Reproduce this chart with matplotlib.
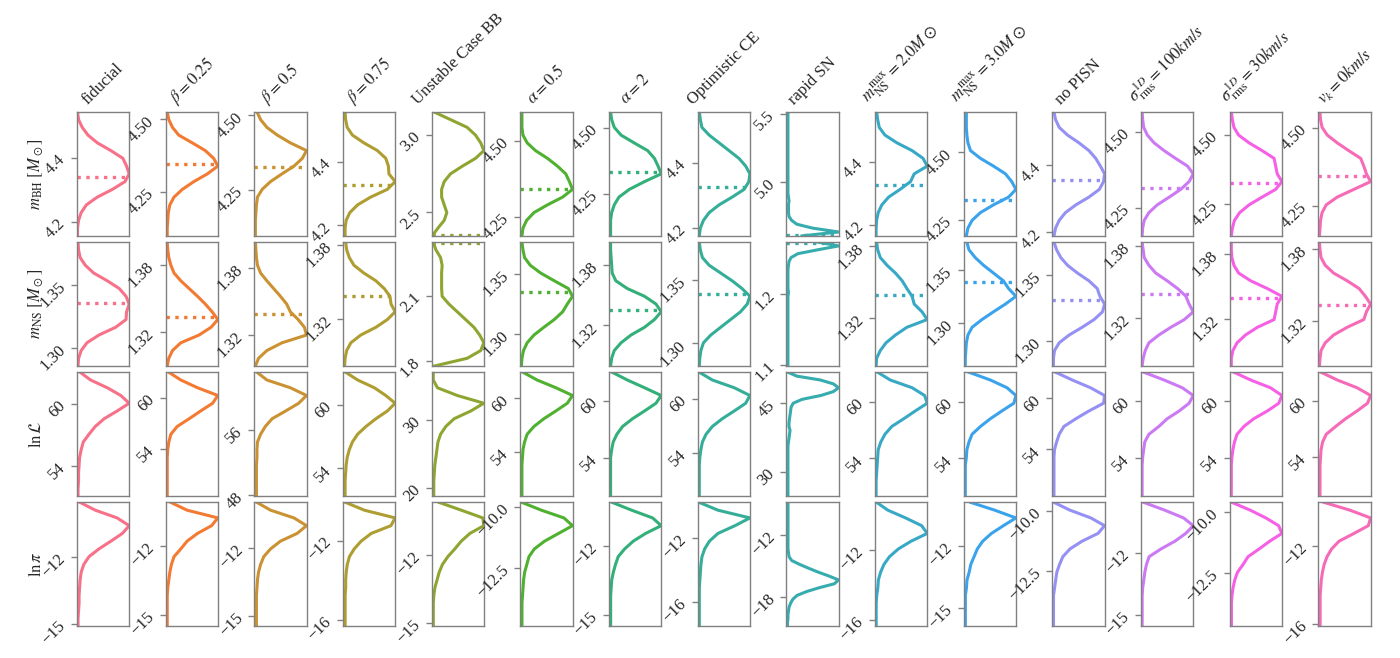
import numpy as np
import matplotlib
matplotlib.use('Agg')
import matplotlib.pyplot as plt
import seaborn as sns

plt.rcParams['font.family'] = 'serif'
plt.rcParams['font.serif'] = ['Liberation Serif', 'DejaVu Serif']
plt.rcParams['mathtext.fontset'] = 'stix'

models = ['fiducial', r'$\beta=0.25$', r'$\beta=0.5$', r'$\beta=0.75$', 'Unstable Case BB',
          r'$\alpha=0.5$', r'$\alpha=2$', 'Optimistic CE', 'rapid SN',
          r'$m_{\rm NS}^{\rm max}=2.0M\odot$', r'$m_{\rm NS}^{\rm max}=3.0M\odot$', 'no PISN',
          r'$\sigma_{\rm rms}^{1D}=100km/s$', r'$\sigma_{\rm rms}^{1D}=30km/s$', r'$v_k=0km/s$']

row_labels = [r'$m_{\rm BH}\ [M_\odot]$', r'$m_{\rm NS}\ [M_\odot]$', r'$\ln\mathcal{L}$', r'$\ln\pi$']

# ---- m_BH ----
mbh_lims = [(4.157, 4.544), (4.099, 4.526), (4.095, 4.512), (4.167, 4.558), (2.348, 3.152),
            (4.188, 4.594), (4.092, 4.561), (4.176, 4.557), (4.601, 5.515), (4.165, 4.560),
            (4.191, 4.650), (4.190, 4.559), (4.159, 4.567), (4.134, 4.582), (4.153, 4.552)]
mbh_ticks = [['4.2', '4.4'], ['4.25', '4.50'], ['4.25', '4.50'], ['4.2', '4.4'], ['2.5', '3.0'],
             ['4.25', '4.50'], ['4.25', '4.50'], ['4.2', '4.4'], ['5.0', '5.5'], ['4.2', '4.4'],
             ['4.25', '4.50'], ['4.2', '4.4'], ['4.25', '4.50'], ['4.25', '4.50'], ['4.25', '4.50']]
mbh_truth = [4.340, 4.346, 4.327, 4.326, 2.352, 4.340, 4.332, 4.326, 4.608, 4.326,
             4.324, 4.357, 4.318, 4.325, 4.344]
mbh_dens = [
    [0.01, 0.01, 0.03, 0.08, 0.18, 0.39, 0.68, 0.92, 1.0, 0.95, 0.88, 0.65, 0.39, 0.21, 0.10, 0.03, 0.01],
    [0.03, 0.03, 0.04, 0.05, 0.08, 0.16, 0.32, 0.54, 0.80, 1.0, 0.92, 0.76, 0.51, 0.25, 0.13, 0.06, 0.03],
    [0.02, 0.02, 0.02, 0.03, 0.04, 0.06, 0.15, 0.31, 0.53, 0.76, 0.92, 1.0, 0.69, 0.44, 0.24, 0.12, 0.05],
    [0.04, 0.04, 0.06, 0.13, 0.28, 0.53, 0.85, 1.0, 0.88, 0.87, 0.82, 0.66, 0.40, 0.18, 0.08, 0.05, 0.04],
    [0.01, 0.12, 0.24, 0.29, 0.24, 0.19, 0.19, 0.24, 0.36, 0.59, 0.84, 1.0, 0.94, 0.84, 0.68, 0.36, 0.04],
    [0.03, 0.05, 0.12, 0.26, 0.52, 0.81, 1.0, 0.94, 0.87, 0.71, 0.52, 0.29, 0.13, 0.05, 0.03, 0.03, 0.03],
    [0.03, 0.03, 0.03, 0.05, 0.10, 0.19, 0.39, 0.68, 1.0, 0.94, 0.87, 0.74, 0.48, 0.23, 0.10, 0.05, 0.03],
    [0.03, 0.05, 0.11, 0.22, 0.41, 0.66, 0.89, 0.98, 1.0, 0.92, 0.79, 0.60, 0.41, 0.22, 0.08, 0.05, 0.03],
    [0.30, 1.0, 0.50, 0.20, 0.10, 0.05, 0.04, 0.04, 0.04, 0.05, 0.04, 0.03, 0.03, 0.03, 0.03, 0.03, 0.03,
     0.03, 0.03, 0.03, 0.03, 0.03, 0.03, 0.03, 0.03, 0.03, 0.03, 0.03, 0.03, 0.03, 0.03, 0.03, 0.03],
    [0.02, 0.02, 0.03, 0.06, 0.13, 0.26, 0.48, 0.68, 0.75, 1.0, 0.92, 0.71, 0.42, 0.19, 0.08, 0.05, 0.03],
    [0.05, 0.08, 0.16, 0.32, 0.57, 0.86, 1.0, 0.92, 0.80, 0.57, 0.32, 0.13, 0.08, 0.06, 0.05, 0.05, 0.05],
    [0.03, 0.06, 0.13, 0.25, 0.45, 0.70, 0.90, 0.98, 1.0, 0.92, 0.83, 0.70, 0.51, 0.29, 0.13, 0.06, 0.03],
    [0.02, 0.03, 0.06, 0.15, 0.31, 0.54, 0.76, 0.92, 1.0, 0.89, 0.66, 0.44, 0.25, 0.12, 0.05, 0.03, 0.02],
    [0.03, 0.05, 0.09, 0.19, 0.37, 0.62, 0.88, 1.0, 0.91, 0.88, 0.85, 0.62, 0.37, 0.17, 0.08, 0.05, 0.03],
    [0.02, 0.03, 0.04, 0.07, 0.15, 0.36, 0.68, 1.0, 0.92, 0.87, 0.81, 0.58, 0.36, 0.17, 0.07, 0.04, 0.03],
]

# ---- m_NS ----
mns_lims = [(1.2854, 1.3846), (1.2896, 1.4009), (1.2924, 1.4032), (1.2818, 1.3822), (1.777, 2.345),
            (1.2732, 1.3762), (1.280, 1.4023), (1.2823, 1.3794), (1.098, 1.2728), (1.2795, 1.3836),
            (1.2594, 1.3759), (1.2813, 1.3745), (1.2799, 1.383), (1.2765, 1.3907), (1.2818, 1.3859)]
mns_ticks = [['1.30', '1.35'], ['1.32', '1.38'], ['1.32', '1.38'], ['1.32', '1.38'], ['1.8', '2.1'],
             ['1.30', '1.35'], ['1.32', '1.38'], ['1.30', '1.35'], ['1.1', '1.2'], ['1.32', '1.38'],
             ['1.30', '1.35'], ['1.30', '1.35'], ['1.32', '1.38'], ['1.32', '1.38'], ['1.32', '1.38']]
mns_truth = [1.3356, 1.334, 1.339, 1.3388, 2.341, 1.3348, 1.3357, 1.3385, 1.2713, 1.3395,
             1.3388, 1.3308, 1.3402, 1.3396, 1.3334]
mns_dens = [
    [0.02, 0.03, 0.08, 0.19, 0.42, 0.74, 0.94, 0.95, 1.0, 0.94, 0.81, 0.58, 0.32, 0.16, 0.06, 0.03, 0.02],
    [0.03, 0.06, 0.13, 0.29, 0.64, 0.87, 1.0, 0.89, 0.76, 0.61, 0.45, 0.29, 0.16, 0.10, 0.06, 0.04, 0.03],
    [0.02, 0.08, 0.24, 0.53, 1.0, 0.96, 0.84, 0.69, 0.62, 0.50, 0.37, 0.24, 0.12, 0.06, 0.04, 0.03, 0.02],
    [0.03, 0.04, 0.07, 0.15, 0.34, 0.63, 0.85, 1.0, 0.92, 0.90, 0.79, 0.63, 0.40, 0.21, 0.12, 0.07, 0.05],
    [0.05, 0.68, 0.94, 1.0, 0.92, 0.81, 0.65, 0.49, 0.33, 0.20, 0.19, 0.19, 0.19, 0.20, 0.17, 0.08, 0.03],
    [0.02, 0.03, 0.06, 0.13, 0.26, 0.45, 0.65, 0.81, 0.90, 1.0, 0.92, 0.65, 0.39, 0.19, 0.08, 0.05, 0.03],
    [0.03, 0.05, 0.10, 0.23, 0.42, 0.68, 0.87, 1.0, 0.90, 0.68, 0.35, 0.13, 0.06, 0.05, 0.04, 0.03, 0.03],
    [0.03, 0.04, 0.06, 0.11, 0.25, 0.44, 0.63, 0.82, 0.95, 1.0, 0.85, 0.66, 0.44, 0.22, 0.09, 0.05, 0.03],
    [0.03, 0.03, 0.03, 0.03, 0.03, 0.03, 0.03, 0.03, 0.03, 0.03, 0.03, 0.03, 0.03, 0.03, 0.03, 0.03, 0.03,
     0.03, 0.03, 0.04, 0.03, 0.03, 0.03, 0.03, 0.03, 0.03, 0.04, 0.05, 0.09, 0.22, 0.60, 1.0, 0.60],
    [0.02, 0.03, 0.10, 0.21, 0.39, 0.61, 1.0, 0.90, 0.75, 0.71, 0.61, 0.52, 0.39, 0.23, 0.10, 0.05, 0.03],
    [0.03, 0.03, 0.04, 0.05, 0.08, 0.16, 0.35, 0.57, 0.80, 1.0, 0.86, 0.76, 0.57, 0.38, 0.22, 0.10, 0.06],
    [0.02, 0.02, 0.04, 0.13, 0.32, 0.57, 0.80, 0.96, 1.0, 0.91, 0.86, 0.70, 0.48, 0.29, 0.16, 0.08, 0.03],
    [0.02, 0.04, 0.08, 0.15, 0.34, 0.57, 0.83, 1.0, 0.92, 0.86, 0.70, 0.50, 0.28, 0.15, 0.06, 0.04, 0.02],
    [0.03, 0.03, 0.06, 0.14, 0.30, 0.53, 0.85, 0.88, 0.91, 1.0, 0.72, 0.40, 0.17, 0.08, 0.04, 0.03, 0.03],
    [0.02, 0.03, 0.05, 0.13, 0.29, 0.55, 0.87, 0.92, 1.0, 0.90, 0.78, 0.55, 0.29, 0.13, 0.05, 0.03, 0.02],
]

# ---- ln L ----
lnl_lims = [(51.08, 63.02), (48.44, 63.06), (47.88, 62.97), (51.34, 63.14), (18.77, 37.0),
            (48.98, 62.94), (49.94, 63.0), (49.13, 63.0), (24.73, 51.8), (49.99, 63.12),
            (49.99, 63.12), (48.47, 63.08), (49.94, 63.0), (49.94, 63.0), (49.82, 63.04)]
lnl_ticks = [['54', '60'], ['54', '60'], ['48', '56'], ['54', '60'], ['20', '30'],
             ['54', '60'], ['54', '60'], ['54', '60'], ['30', '45'], ['54', '60'],
             ['54', '60'], ['54', '60'], ['54', '60'], ['54', '60'], ['54', '60']]
lnl_dens = [
    [0.02, 0.02, 0.03, 0.03, 0.04, 0.05, 0.08, 0.12, 0.23, 0.35, 0.52, 0.77, 1.0, 0.84, 0.58, 0.26, 0.06],
    [0.03, 0.03, 0.03, 0.03, 0.03, 0.03, 0.04, 0.06, 0.10, 0.22, 0.45, 0.67, 0.90, 1.0, 0.61, 0.29, 0.06],
    [0.04, 0.04, 0.04, 0.04, 0.04, 0.05, 0.05, 0.06, 0.12, 0.21, 0.34, 0.60, 0.85, 1.0, 0.69, 0.24, 0.05],
    [0.04, 0.04, 0.04, 0.05, 0.06, 0.08, 0.12, 0.18, 0.28, 0.44, 0.63, 0.85, 1.0, 0.82, 0.60, 0.28, 0.05],
    [0.04, 0.04, 0.04, 0.05, 0.06, 0.08, 0.10, 0.12, 0.17, 0.27, 0.43, 0.75, 1.0, 0.49, 0.11, 0.03, 0.03],
    [0.03, 0.03, 0.03, 0.03, 0.03, 0.04, 0.05, 0.08, 0.13, 0.26, 0.45, 0.68, 0.90, 1.0, 0.68, 0.32, 0.05],
    [0.03, 0.03, 0.03, 0.03, 0.03, 0.03, 0.05, 0.08, 0.15, 0.26, 0.45, 0.68, 0.90, 1.0, 0.68, 0.35, 0.06],
    [0.03, 0.03, 0.03, 0.03, 0.03, 0.04, 0.06, 0.09, 0.16, 0.28, 0.47, 0.70, 0.92, 1.0, 0.70, 0.28, 0.03],
    [0.03, 0.03, 0.03, 0.03, 0.03, 0.03, 0.03, 0.03, 0.03, 0.03, 0.03, 0.03, 0.03, 0.03, 0.04, 0.05, 0.06,
     0.07, 0.05, 0.05, 0.06, 0.07, 0.08, 0.09, 0.13, 0.30, 0.66, 0.90, 1.0, 0.90, 0.65, 0.20, 0.03],
    [0.02, 0.02, 0.02, 0.03, 0.04, 0.05, 0.06, 0.11, 0.19, 0.32, 0.55, 0.77, 1.0, 0.95, 0.71, 0.29, 0.05],
    [0.03, 0.03, 0.03, 0.03, 0.03, 0.05, 0.06, 0.10, 0.16, 0.32, 0.51, 0.73, 0.96, 1.0, 0.83, 0.51, 0.10],
    [0.03, 0.03, 0.03, 0.03, 0.03, 0.03, 0.04, 0.08, 0.13, 0.22, 0.45, 0.70, 0.98, 1.0, 0.73, 0.38, 0.06],
    [0.02, 0.02, 0.02, 0.02, 0.02, 0.03, 0.05, 0.07, 0.15, 0.34, 0.50, 0.73, 0.92, 1.0, 0.79, 0.44, 0.05],
    [0.03, 0.03, 0.03, 0.03, 0.03, 0.04, 0.06, 0.09, 0.14, 0.27, 0.46, 0.72, 0.94, 1.0, 0.78, 0.40, 0.08],
    [0.03, 0.03, 0.03, 0.03, 0.03, 0.04, 0.05, 0.08, 0.15, 0.33, 0.52, 0.74, 0.94, 1.0, 0.74, 0.36, 0.05],
]

# ---- ln pi ----
lnp_lims = [(-15.09, -9.57), (-15.52, -10.08), (-15.44, -10.0), (-16.3, -10.09), (-15.15, -9.65),
            (-14.9, -9.82), (-15.51, -10.1), (-17.51, -9.76), (-20.85, -8.85), (-16.38, -9.27),
            (-15.89, -9.89), (-14.79, -9.65), (-15.57, -9.57), (-14.65, -9.62), (-16.14, -9.76)]
lnp_ticks = [['−15', '−12'], ['−15', '−12'], ['−15', '−12'], ['−16', '−12'], ['−15', '−12'],
             ['−12.5', '−10.0'], ['−15', '−12'], ['−16', '−12'], ['−18', '−12'], ['−16', '−12'],
             ['−15', '−12'], ['−12.5', '−10.0'], ['−15', '−12'], ['−12.5', '−10.0'], ['−16', '−12']]
lnp_dens = [
    [0.02, 0.02, 0.03, 0.04, 0.04, 0.05, 0.06, 0.08, 0.13, 0.23, 0.42, 0.65, 0.87, 1.0, 0.77, 0.35, 0.06],
    [0.03, 0.03, 0.03, 0.03, 0.03, 0.04, 0.06, 0.08, 0.11, 0.16, 0.29, 0.41, 0.61, 0.88, 1.0, 0.41, 0.10],
    [0.04, 0.04, 0.04, 0.04, 0.04, 0.05, 0.06, 0.08, 0.12, 0.18, 0.31, 0.50, 0.82, 1.0, 0.76, 0.31, 0.05],
    [0.04, 0.04, 0.04, 0.04, 0.04, 0.05, 0.05, 0.06, 0.08, 0.12, 0.21, 0.34, 0.53, 0.90, 0.98, 0.40, 0.05],
    [0.03, 0.03, 0.03, 0.03, 0.04, 0.06, 0.10, 0.14, 0.20, 0.30, 0.43, 0.55, 0.71, 0.97, 0.95, 0.55, 0.14],
    [0.03, 0.03, 0.03, 0.03, 0.04, 0.05, 0.06, 0.08, 0.12, 0.16, 0.26, 0.45, 0.71, 0.97, 0.81, 0.39, 0.03],
    [0.03, 0.03, 0.03, 0.03, 0.03, 0.04, 0.05, 0.08, 0.12, 0.17, 0.29, 0.45, 0.68, 0.97, 0.81, 0.42, 0.06],
    [0.03, 0.03, 0.03, 0.03, 0.03, 0.03, 0.04, 0.05, 0.06, 0.08, 0.13, 0.22, 0.38, 0.70, 0.98, 0.38, 0.03],
    [0.02, 0.02, 0.03, 0.03, 0.04, 0.05, 0.08, 0.12, 0.20, 0.38, 0.62, 0.90, 0.98, 0.80, 0.60, 0.42, 0.25,
     0.10, 0.05, 0.04, 0.03, 0.03, 0.03, 0.03, 0.03, 0.03, 0.03, 0.03, 0.03, 0.03, 0.03, 0.03, 0.03],
    [0.02, 0.02, 0.02, 0.02, 0.03, 0.05, 0.06, 0.10, 0.16, 0.26, 0.42, 0.65, 0.94, 0.84, 0.55, 0.23, 0.03],
    [0.03, 0.03, 0.03, 0.03, 0.03, 0.05, 0.06, 0.10, 0.13, 0.19, 0.25, 0.35, 0.51, 0.73, 0.96, 0.57, 0.13],
    [0.02, 0.02, 0.02, 0.02, 0.02, 0.04, 0.06, 0.08, 0.13, 0.19, 0.32, 0.54, 0.83, 0.95, 0.70, 0.32, 0.03],
    [0.02, 0.02, 0.02, 0.02, 0.02, 0.03, 0.05, 0.07, 0.10, 0.15, 0.37, 0.63, 0.83, 0.97, 0.79, 0.44, 0.05],
    [0.03, 0.03, 0.03, 0.03, 0.04, 0.06, 0.09, 0.14, 0.24, 0.33, 0.53, 0.72, 0.94, 0.88, 0.65, 0.37, 0.04],
    [0.03, 0.03, 0.03, 0.03, 0.03, 0.04, 0.05, 0.07, 0.10, 0.15, 0.23, 0.36, 0.62, 0.87, 0.91, 0.55, 0.10],
]

colors = sns.husl_palette(15)

rows = [(mbh_lims, mbh_ticks, mbh_dens, mbh_truth),
        (mns_lims, mns_ticks, mns_dens, mns_truth),
        (lnl_lims, lnl_ticks, lnl_dens, None),
        (lnp_lims, lnp_ticks, lnp_dens, None)]

fig, axes = plt.subplots(4, 15, figsize=(14, 6.58), dpi=100)
fig.subplots_adjust(left=0.055, right=0.979, top=0.830, bottom=0.048, wspace=0.70, hspace=0.05)

for r, (lims, ticks, dens, truth) in enumerate(rows):
    for c in range(15):
        ax = axes[r, c]
        lo, hi = lims[c]
        d = np.array(dens[c])
        y = np.linspace(lo, hi, len(d))
        ax.plot(d, y, color=colors[c], lw=2.2)
        if truth is not None:
            ax.axhline(truth[c], color=colors[c], lw=2.4, ls=':')
        ax.set_ylim(lo, hi)
        ax.set_xlim(0, d.max())
        ax.set_xticks([])
        ax.set_yticks([float(t.replace('−', '-')) for t in ticks[c]])
        ax.set_yticklabels(ticks[c], rotation=45)
        ax.tick_params(axis='y', length=4, width=1, color='#808080', labelsize=12,
                       pad=2, labelcolor='#262626')
        for s in ax.spines.values():
            s.set_color('#808080')
            s.set_linewidth(1)
        if r == 0:
            ax.set_title(models[c], rotation=45, ha='center', va='bottom', pad=3,
                         fontsize=12, color='#262626')
        if c == 0:
            ax.set_ylabel(row_labels[r], fontsize=12, color='#262626')
            ax.yaxis.set_label_coords(-0.62, 0.5)

plt.savefig('out.png', dpi=100)
plt.close()
